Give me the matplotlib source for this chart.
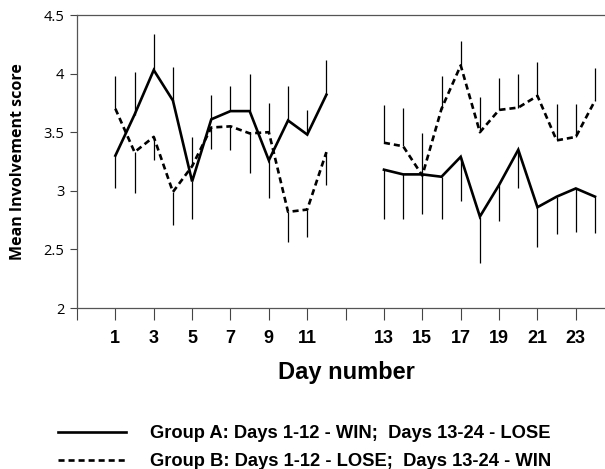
import matplotlib
matplotlib.use("Agg")
import matplotlib.pyplot as plt
import numpy as np

# ---------------- data ----------------
days = list(range(1, 25))
group_a = [3.30, 3.65, 4.03, 3.77, 3.08, 3.61, 3.68, 3.68, 3.26, 3.60, 3.48, 3.82,
           3.18, 3.14, 3.14, 3.12, 3.29, 2.78, 3.05, 3.35, 2.86, 2.95, 3.02, 2.95]
err_a = [0.28, 0.36, 0.31, 0.29, 0.32, 0.21, 0.21, 0.32, 0.32, 0.29, 0.21, 0.30,
         0.42, 0.38, 0.34, 0.36, 0.38, 0.40, 0.31, 0.33, 0.34, 0.32, 0.37, 0.31]
dir_a = [-1, 1, 1, 1, -1, 1, 1, 1, -1, 1, 1, 1,
         -1, -1, -1, -1, -1, -1, -1, -1, -1, -1, -1, -1]
group_b = [3.70, 3.33, 3.46, 2.99, 3.21, 3.54, 3.55, 3.49, 3.50, 2.82, 2.84, 3.33,
           3.41, 3.38, 3.13, 3.70, 4.07, 3.50, 3.69, 3.71, 3.81, 3.43, 3.46, 3.77]
err_b = [0.28, 0.35, 0.20, 0.28, 0.25, 0.18, 0.20, 0.34, 0.25, 0.26, 0.23, 0.28,
         0.32, 0.33, 0.36, 0.28, 0.21, 0.30, 0.27, 0.29, 0.29, 0.31, 0.28, 0.28]
dir_b = [1, -1, -1, -1, 1, -1, -1, -1, 1, -1, -1, -1,
         1, 1, 1, 1, 1, 1, 1, 1, 1, 1, 1, 1]
tick_days = [1, 3, 5, 7, 9, 11, 13, 15, 17, 19, 21, 23]
y_ticks = [2, 2.5, 3, 3.5, 4, 4.5]
y_tick_labels = ["2", "2.5", "3", "3.5", "4", "4.5"]
label_a = "Group A: Days 1-12 - WIN;  Days 13-24 - LOSE"
label_b = "Group B: Days 1-12 - LOSE;  Days 13-24 - WIN"

# ---------------- layout helpers ----------------
GAP = 2  # blank units between the two blocks of days


def pos(d):
    return d if d <= 12 else d + GAP


bold_font = ["Liberation Sans", "DejaVu Sans"]
hum_font = ["Open Sans", "DejaVu Sans"]

W, H = 605, 469
fig = plt.figure(figsize=(W / 100, H / 100), dpi=100)
ax_left, ax_top, ax_bot = 77, 15, 308
ax = fig.add_axes([ax_left / W, 1 - ax_bot / H, 1 - ax_left / W, (ax_bot - ax_top) / H])

x = np.array([pos(d) for d in days], dtype=float)
ya = np.array(group_a)
yb = np.array(group_b)
ea = np.array(err_a)
eb = np.array(err_b)
da = np.array(dir_a)
db = np.array(dir_b)

first = np.array([d <= 12 for d in days])
second = ~first

lw = 1.9
dash = (0, (2.3, 1.5))
line_a = None
line_b = None
for m in (first, second):
    la, = ax.plot(x[m], ya[m], color="black", lw=lw, solid_joinstyle="miter")
    lb, = ax.plot(x[m], yb[m], color="black", lw=lw, linestyle=dash)
    line_a, line_b = la, lb

# one-sided error bars
ax.errorbar(x, ya, yerr=[np.where(da < 0, ea, 0), np.where(da > 0, ea, 0)],
            fmt="none", ecolor="black", elinewidth=0.9, capsize=0)
ax.errorbar(x, yb, yerr=[np.where(db < 0, eb, 0), np.where(db > 0, eb, 0)],
            fmt="none", ecolor="black", elinewidth=0.9, capsize=0)

# axes limits
ax.set_ylim(2, 4.5)
ax.set_xlim(-1, 1 + (W - 115) / 19.2)

# x ticks: every 2 units, labelled at day positions
xt = [-1] + [pos(d) for d in tick_days[:6]] + [13] + [pos(d) for d in tick_days[6:]]
xl = [""] + [str(d) for d in tick_days[:6]] + [""] + [str(d) for d in tick_days[6:]]
ax.set_xticks(xt)
ax.set_xticklabels(xl, family=bold_font, fontweight="bold", fontsize=13)
ax.tick_params(axis="x", direction="out", length=8.5, width=0.8, pad=7, colors="#444",
               labelcolor="black")

ax.set_yticks(y_ticks)
ax.set_yticklabels(y_tick_labels, family=hum_font, fontsize=10.5)
ax.tick_params(axis="y", direction="out", length=5, width=0.8, pad=4, colors="#444",
               labelcolor="black")

for s in ("left", "bottom", "top"):
    ax.spines[s].set_color("#555")
    ax.spines[s].set_linewidth(0.9)
ax.spines["right"].set_visible(False)

ax.set_xlabel("Day number", family=bold_font, fontweight="bold", fontsize=17)
ax.xaxis.set_label_coords((346.5 - ax_left) / (W - ax_left), (ax_bot - 361) / (ax_bot - ax_top))
ax.set_ylabel("Mean Involvement score", family=hum_font, fontweight="bold", fontsize=11.5,
              va="center")
ax.yaxis.set_label_coords((18 - ax_left) / (W - ax_left), 0.5)

leg = fig.legend([line_a, line_b], [label_a, label_b], loc="upper left",
                 bbox_to_anchor=(58 / W, 1 - 425 / H), frameon=False,
                 prop={"family": bold_font, "weight": "bold", "size": 13.2},
                 handlelength=3.7, handletextpad=1.3, labelspacing=0.62,
                 borderpad=0, borderaxespad=0)

fig.savefig("out.png", dpi=100)
